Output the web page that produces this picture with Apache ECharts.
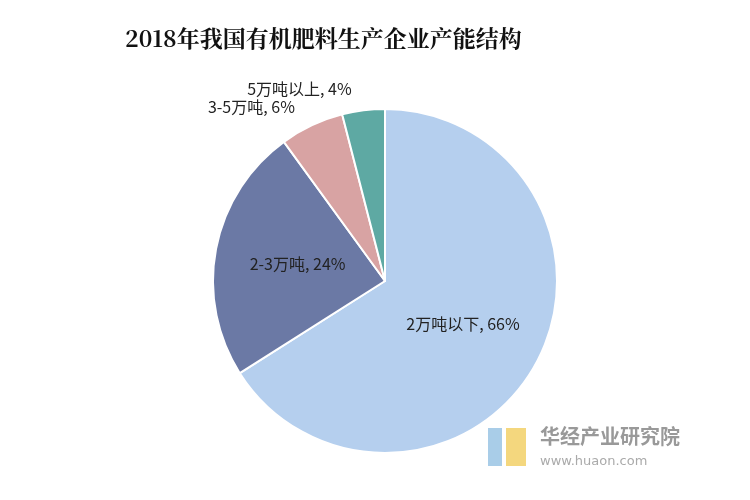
<!DOCTYPE html>
<html><head><meta charset="utf-8">
<script src="https://cdn.jsdelivr.net/npm/echarts@6/dist/echarts.min.js"></script>
<style>html,body{margin:0;background:#fff}#c{width:750px;height:500px}</style>
</head><body><div id="c"></div>
<script>
var categories = ['2万吨以下', '2-3万吨', '3-5万吨', '5万吨以上'];
var values = [66, 24, 6, 4];
var colors = ['#b5cfee', '#6b79a5', '#d8a3a3', '#5ea9a3'];

var chart = echarts.init(document.getElementById('c'));
var data = categories.map(function (name, i) {
  var inside = i < 2;
  return {
    name: name, value: values[i],
    itemStyle: { color: colors[i] },
    label: { position: inside ? 'inside' : 'outside' }
  };
});
chart.setOption({
  title: {
    text: '2018年我国有机肥料生产企业产能结构',
    left: 120, top: 22,
    textStyle: { fontFamily: 'Noto Serif CJK SC, Noto Sans CJK SC, serif', fontSize: 23, fontWeight: 'bold', color: '#111' }
  },
  graphic: [
    { type: 'rect', left: 488, top: 428, shape: { width: 14, height: 38 }, style: { fill: '#a9cde8' } },
    { type: 'rect', left: 506, top: 428, shape: { width: 20, height: 38 }, style: { fill: '#f4d77e' } },
    { type: 'text', left: 540, top: 426, style: { text: '华经产业研究院', fill: '#999', font: 'bold 20px "Noto Sans CJK SC"' } },
    { type: 'text', left: 540, top: 455, style: { text: 'www.huaon.com', fill: '#aaa', font: '13px "DejaVu Sans"' } }
  ],
  series: [{
    type: 'pie',
    center: [385, 281],
    radius: 172,
    startAngle: 90,
    clockwise: true,
    data: data,
    itemStyle: { borderColor: '#fff', borderWidth: 2 },
    label: {
      formatter: '{b}, {c}%',
      color: '#222',
      fontSize: 16,
      fontFamily: 'Noto Sans CJK SC'
    },
    labelLine: { show: false, length: 22, length2: 4 },
    emphasis: { disabled: true }
  }]
});
</script></body></html>
